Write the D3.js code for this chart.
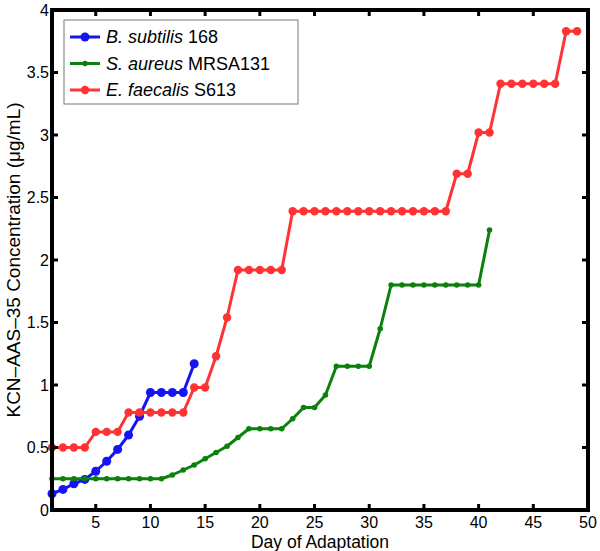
<!DOCTYPE html>
<html>
<head>
<meta charset="utf-8">
<script src="https://cdn.jsdelivr.net/npm/d3@7"></script>
<style>
  html, body { margin: 0; padding: 0; background: #fff; }
  svg { display: block; font-family: "Liberation Sans", Arial, sans-serif; }
</style>
</head>
<body>
<svg id="chart"></svg>
<script>
// Adaptation of three strains to KCN-AAS-35

const width = 600;
const height = 551;

const xTicks = [5, 10, 15, 20, 25, 30, 35, 40, 45, 50];
const yTicks = [0, 0.5, 1, 1.5, 2, 2.5, 3, 3.5, 4];

const bsDays = [1, 2, 3, 4, 5, 6, 7, 8, 9, 10, 11, 12, 13, 14];
const bsValues = [0.13, 0.165, 0.21, 0.245, 0.31, 0.39, 0.485, 0.6, 0.75, 0.94, 0.94, 0.94, 0.94, 1.17];

const saDays = [1, 2, 3, 4, 5, 6, 7, 8, 9, 10, 11, 12, 13, 14, 15, 16, 17, 18, 19, 20,
                21, 22, 23, 24, 25, 26, 27, 28, 29, 30, 31, 32, 33, 34, 35, 36, 37, 38, 39, 40, 41];
const saValues = [0.25, 0.25, 0.25, 0.25, 0.25, 0.25, 0.25, 0.25, 0.25, 0.25, 0.25, 0.28, 0.32, 0.36, 0.41,
                  0.46, 0.51, 0.58, 0.65, 0.65, 0.65, 0.65, 0.73, 0.82, 0.82, 0.92, 1.15, 1.15, 1.15, 1.15,
                  1.45, 1.8, 1.8, 1.8, 1.8, 1.8, 1.8, 1.8, 1.8, 1.8, 2.24];

const efDays = [1, 2, 3, 4, 5, 6, 7, 8, 9, 10, 11, 12, 13, 14, 15, 16, 17, 18, 19, 20,
                21, 22, 23, 24, 25, 26, 27, 28, 29, 30, 31, 32, 33, 34, 35, 36, 37, 38, 39, 40,
                41, 42, 43, 44, 45, 46, 47, 48, 49];
const efValues = [0.5, 0.5, 0.5, 0.5, 0.625, 0.625, 0.625, 0.78, 0.78, 0.78, 0.78, 0.78, 0.78, 0.98, 0.98,
                  1.23, 1.54, 1.92, 1.92, 1.92, 1.92, 1.92, 2.39, 2.39, 2.39, 2.39, 2.39, 2.39, 2.39, 2.39,
                  2.39, 2.39, 2.39, 2.39, 2.39, 2.39, 2.39, 2.69, 2.69, 3.02, 3.02, 3.41, 3.41, 3.41, 3.41,
                  3.41, 3.41, 3.83, 3.83];

const series = [
    { italic: "B. subtilis", strain: "168", color: "#1414f5", r: 4.5, days: bsDays, values: bsValues },
    { italic: "S. aureus", strain: "MRSA131", color: "#0c800c", r: 2.8, days: saDays, values: saValues },
    { italic: "E. faecalis", strain: "S613", color: "#ff3333", r: 4.2, days: efDays, values: efValues }
];

const margin = { left: 52, right: 12, top: 10, bottom: 41 };

const svg = d3.select("#chart").attr("width", width).attr("height", height);

const x = d3.scaleLinear().domain([1, 50]).range([margin.left, width - margin.right]);
const y = d3.scaleLinear().domain([0, 4]).range([height - margin.bottom, margin.top]);

const line = d3.line()
    .x(d => x(d[0]))
    .y(d => y(d[1]));

// one line + markers per strain, in legend order
series.forEach(s => {
    const pts = s.days.map((d, i) => [d, s.values[i]]);
    const g = svg.append("g");
    g.append("path")
        .datum(pts)
        .attr("fill", "none")
        .attr("stroke", s.color)
        .attr("stroke-width", 3)
        .attr("stroke-linejoin", "round")
        .attr("d", line);
    g.selectAll("circle")
        .data(pts)
        .join("circle")
        .attr("cx", d => x(d[0]))
        .attr("cy", d => y(d[1]))
        .attr("r", s.r)
        .attr("fill", s.color);
});

// Axes box with inward ticks on all sides
const tickLen = 6;
const axisG = svg.append("g").attr("stroke", "#000");

axisG.append("rect")
    .attr("x", x(1))
    .attr("y", y(4))
    .attr("width", x(50) - x(1))
    .attr("height", y(0) - y(4))
    .attr("fill", "none")
    .attr("stroke-width", 4);

xTicks.forEach(t => {
    axisG.append("line")
        .attr("x1", x(t)).attr("x2", x(t))
        .attr("y1", y(0)).attr("y2", y(0) - tickLen)
        .attr("stroke-width", 3);
    axisG.append("line")
        .attr("x1", x(t)).attr("x2", x(t))
        .attr("y1", y(4)).attr("y2", y(4) + tickLen)
        .attr("stroke-width", 3);
});
yTicks.forEach(t => {
    axisG.append("line")
        .attr("x1", x(1)).attr("x2", x(1) + tickLen)
        .attr("y1", y(t)).attr("y2", y(t))
        .attr("stroke-width", 3);
    axisG.append("line")
        .attr("x1", x(50)).attr("x2", x(50) - tickLen)
        .attr("y1", y(t)).attr("y2", y(t))
        .attr("stroke-width", 3);
});

// Tick labels
svg.append("g")
    .selectAll("text")
    .data(xTicks)
    .join("text")
    .attr("x", d => x(d))
    .attr("y", y(0) + 17.5)
    .attr("text-anchor", "middle")
    .attr("font-size", 16)
    .text(d => d);

svg.append("g")
    .selectAll("text")
    .data(yTicks)
    .join("text")
    .attr("x", x(1) - 3)
    .attr("y", d => y(d))
    .attr("dy", "0.35em")
    .attr("text-anchor", "end")
    .attr("font-size", 16)
    .text(d => d);

// Axis titles
svg.append("text")
    .attr("x", (x(1) + x(50)) / 2)
    .attr("y", height - 3)
    .attr("text-anchor", "middle")
    .attr("font-size", 17.5)
    .text("Day of Adaptation");

svg.append("text")
    .attr("transform", `translate(20,${(y(0) + y(4)) / 2}) rotate(-90)`)
    .attr("text-anchor", "middle")
    .attr("font-size", 19)
    .text("KCN\u2013AAS\u201335 Concentration (\u03bcg/mL)");

// Legend
const legend = svg.append("g");
legend.append("rect")
    .attr("x", 64).attr("y", 20)
    .attr("width", 234).attr("height", 84)
    .attr("fill", "#fff")
    .attr("stroke", "#777")
    .attr("stroke-width", 1);

series.forEach((s, i) => {
    const ly = 37 + i * 26.5;
    legend.append("line")
        .attr("x1", 70).attr("x2", 100)
        .attr("y1", ly).attr("y2", ly)
        .attr("stroke", s.color)
        .attr("stroke-width", 3);
    legend.append("circle")
        .attr("cx", 85).attr("cy", ly)
        .attr("r", s.r)
        .attr("fill", s.color);
    const t = legend.append("text")
        .attr("x", 106)
        .attr("y", ly)
        .attr("dy", "0.35em")
        .attr("font-size", 18);
    t.append("tspan").attr("font-style", "italic").text(s.italic);
    t.append("tspan").text(" " + s.strain);
});
</script>
</body>
</html>
